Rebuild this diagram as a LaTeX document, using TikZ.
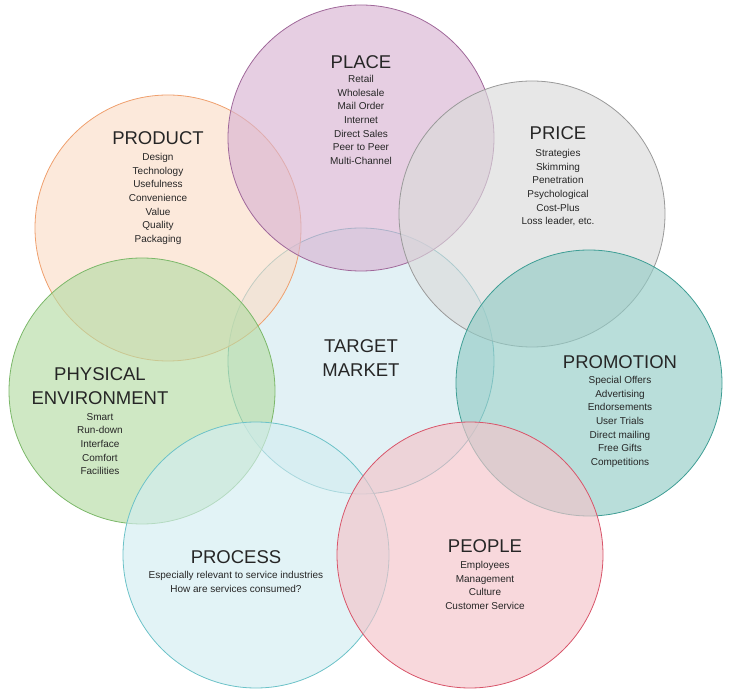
\documentclass[tikz,border=0pt]{standalone}
\usepackage{fontspec}
\setmainfont{Liberation Sans}
\begin{document}
\begin{tikzpicture}[x=1pt,y=-1pt,
 circ/.style={fill opacity=0.65,draw opacity=1,line width=0.8pt},
 ttl/.style={font=\fontsize{18.5}{21}\selectfont,text=black!85,inner sep=0pt},
 itm/.style={font=\fontsize{10}{13.7}\selectfont,align=center,anchor=north,inner sep=0pt,text=black!85}]
\useasboundingbox (0,0) rectangle (734,700);
\definecolor{plF}{HTML}{D8B4D2}\definecolor{plD}{HTML}{A0689A}
\definecolor{prF}{HTML}{FBDDC8}\definecolor{prD}{HTML}{EFA06E}
\definecolor{piF}{HTML}{DADADA}\definecolor{piD}{HTML}{9A9A9A}
\definecolor{tgF}{HTML}{D3EAF0}\definecolor{tgD}{HTML}{5AAFB8}
\definecolor{phF}{HTML}{B6DCA5}\definecolor{phD}{HTML}{7CB86A}
\definecolor{pmF}{HTML}{93CCC6}\definecolor{pmD}{HTML}{3F9E95}
\definecolor{pcF}{HTML}{D3EDF1}\definecolor{pcD}{HTML}{6CC2C8}
\definecolor{ppF}{HTML}{F4C3C9}\definecolor{ppD}{HTML}{D8556A}
\path[circ,fill=tgF,draw=tgD] (361,361) circle (133) node (tg) {};
\path[circ,fill=prF,draw=prD] (168,228) circle (133) node (pr) {};
\path[circ,fill=plF,draw=plD] (361,138) circle (133) node (pl) {};
\path[circ,fill=piF,draw=piD] (532,214) circle (133) node (pi) {};
\path[circ,fill=phF,draw=phD] (142,391) circle (133) node (ph) {};
\path[circ,fill=pmF,draw=pmD] (589,383) circle (133) node (pm) {};
\path[circ,fill=pcF,draw=pcD] (256,555) circle (133) node (pc) {};
\path[circ,fill=ppF,draw=ppD] (470,555) circle (133) node (pp) {};

\node[ttl] (t1) at (361,62) {PLACE};
\node[itm] (i1) at (361,75) {Retail\\Wholesale\\Mail Order\\Internet\\Direct Sales\\Peer to Peer\\Multi-Channel};
\node[ttl] (t2) at (158,138) {PRODUCT};
\node[itm] (i2) at (158,153) {Design\\Technology\\Usefulness\\Convenience\\Value\\Quality\\Packaging};
\node[ttl] (t3) at (558,133) {PRICE};
\node[itm] (i3) at (558,149) {Strategies\\Skimming\\Penetration\\Psychological\\Cost-Plus\\Loss leader, etc.};
\node[ttl,align=center,font=\fontsize{18.5}{24}\selectfont] (t4) at (361,358) {TARGET\\MARKET};
\node[ttl,align=center,font=\fontsize{18.5}{24}\selectfont] (t5) at (100,386) {PHYSICAL\\ENVIRONMENT};
\node[itm] (i5) at (100,413) {Smart\\Run-down\\Interface\\Comfort\\Facilities};
\node[ttl] (t6) at (620,362) {PROMOTION};
\node[itm] (i6) at (620,376) {Special Offers\\Advertising\\Endorsements\\User Trials\\Direct mailing\\Free Gifts\\Competitions};
\node[ttl] (t7) at (236,557) {PROCESS};
\node[itm] (i7) at (236,571) {Especially relevant to service industries\\How are services consumed?};
\node[ttl] (t8) at (485,546) {PEOPLE};
\node[itm] (i8) at (485,561) {Employees\\Management\\Culture\\Customer Service};
\end{tikzpicture}
\end{document}
